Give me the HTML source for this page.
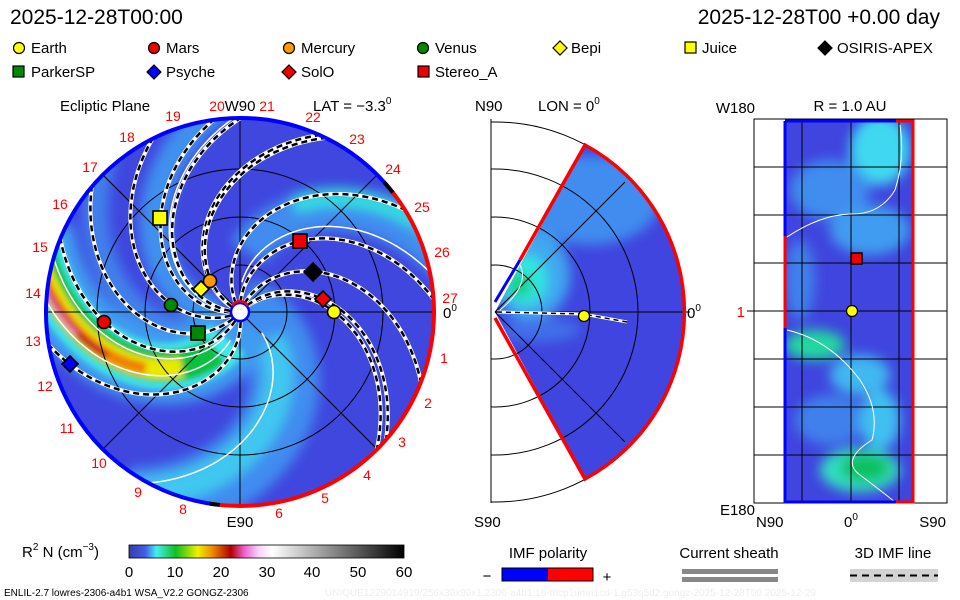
<!DOCTYPE html>
<html><head><meta charset="utf-8">
<style>
html,body{margin:0;padding:0;background:#fff;}
svg{display:block;font-family:"Liberation Sans",sans-serif;}
</style></head><body>
<svg id="s" width="960" height="600" viewBox="0 0 960 600" xmlns="http://www.w3.org/2000/svg">
<defs>
<clipPath id="cc"><circle cx="240" cy="312" r="193"/></clipPath>
<clipPath id="wc"><path d="M495,312 L585,145 A190,190 0 0 1 585,479 Z"/></clipPath>
<clipPath id="rc"><rect x="785" y="121" width="129" height="381"/></clipPath>
<clipPath id="mb"><rect x="491" y="119" width="300" height="384"/></clipPath>
<filter id="bl" x="-50%" y="-50%" width="200%" height="200%"><feGaussianBlur stdDeviation="6"/></filter>
<filter id="bl2" x="-50%" y="-50%" width="200%" height="200%"><feGaussianBlur stdDeviation="3"/></filter>
<linearGradient id="cb" x1="0" x2="1">
<stop offset="0" stop-color="#3a3aa8"/><stop offset="0.06" stop-color="#4060e8"/><stop offset="0.1" stop-color="#40f0f0"/>
<stop offset="0.17" stop-color="#10c020"/><stop offset="0.25" stop-color="#f0f000"/><stop offset="0.3" stop-color="#f09000"/>
<stop offset="0.37" stop-color="#b00000"/><stop offset="0.42" stop-color="#f060d0"/><stop offset="0.47" stop-color="#f8d0f8"/>
<stop offset="0.52" stop-color="#ffffff"/><stop offset="1" stop-color="#000000"/>
</linearGradient>
</defs>

<text x="10" y="24" font-size="21">2025-12-28T00:00</text>
<text x="940" y="24" font-size="21" text-anchor="end">2025-12-28T00 +0.00 day</text>

<g font-size="15" stroke="#000" stroke-width="1.2">
<circle cx="19" cy="48" r="5.5" fill="#ff0"/>
<circle cx="154" cy="48" r="5.5" fill="#e00"/>
<circle cx="289" cy="48" r="5.5" fill="#f90"/>
<circle cx="423" cy="48" r="5.5" fill="#080"/>
<path d="M560,41 L567,48 560,55 553,48Z" fill="#ff0"/>
<rect x="685" y="42" width="11" height="11" fill="#ff0"/>
<path d="M825,41 L832,48 825,55 818,48Z" fill="#000"/>
<rect x="13" y="66" width="11" height="11" fill="#080"/>
<path d="M154,65 L161,72 154,79 147,72Z" fill="#00f"/>
<path d="M289,65 L296,72 289,79 282,72Z" fill="#e00"/>
<rect x="418" y="66" width="11" height="11" fill="#e00"/>
</g>
<g font-size="15">
<text x="31" y="53">Earth</text><text x="166" y="53">Mars</text><text x="301" y="53">Mercury</text>
<text x="435" y="53">Venus</text><text x="571" y="53">Bepi</text><text x="702" y="53">Juice</text>
<text x="837" y="53">OSIRIS-APEX</text>
<text x="31" y="77">ParkerSP</text><text x="166" y="77">Psyche</text><text x="301" y="77">SolO</text><text x="435" y="77">Stereo_A</text>
</g>

<g font-size="15">
<text x="60" y="111">Ecliptic Plane</text>
<text x="240" y="111" text-anchor="middle">W90</text>
<text x="313" y="111">LAT = −3.3<tspan font-size="10" dy="-7">0</tspan></text>
<text x="240" y="527" text-anchor="middle">E90</text>
<text x="443" y="318">0<tspan font-size="10" dy="-7">0</tspan></text>
</g>
<circle cx="240" cy="312" r="194" fill="#3f47de"/>
<g clip-path="url(#cc)" id="dens"></g>
<g clip-path="url(#cc)" fill="none" stroke="#000" stroke-width="1">
<circle cx="240" cy="312" r="47"/><circle cx="240" cy="312" r="95"/><circle cx="240" cy="312" r="143"/>
<line x1="40" y1="312" x2="440" y2="312"/><line x1="240" y1="110" x2="240" y2="510"/>
<line x1="100" y1="172" x2="380" y2="452"/><line x1="100" y1="452" x2="380" y2="172"/>
</g>
<g id="flines" clip-path="url(#cc)" fill="none"></g>
<g fill="none" stroke-width="4">
<path id="rimB" stroke="#00f"/><path id="rimR" stroke="#f00"/>
<path id="rimK1" stroke="#000"/><path id="rimK2" stroke="#000"/>
</g>
<circle cx="240" cy="312" r="9" fill="#fff" stroke="#00f" stroke-width="2.5"/>
<path d="M232,306 A9,9 0 0 1 248,306" fill="none" stroke="#f00" stroke-width="2.5"/>
<g stroke="#000" stroke-width="1.6">
<circle cx="334" cy="312" r="6.5" fill="#ff0"/>
<path d="M323,291 L331,299 323,307 315,299Z" fill="#e00"/>
<path d="M313,263 L322,272 313,281 304,272Z" fill="#000"/>
<rect x="293" y="234" width="14" height="14" fill="#e00"/>
<circle cx="210" cy="281" r="6.5" fill="#f90"/>
<path d="M201,281 L209,289 201,297 193,289Z" fill="#ff0"/>
<circle cx="171" cy="305" r="6.5" fill="#080"/>
<circle cx="104" cy="322" r="6.5" fill="#e00"/>
<rect x="191" y="326" width="14" height="14" fill="#080"/>
<rect x="153" y="211" width="14" height="14" fill="#ff0"/>
<path d="M70,356 L78,364 70,372 62,364Z" fill="#00f"/>
</g>
<g fill="#f00" font-size="14" text-anchor="middle" id="nums"></g>

<g font-size="15">
<text x="475" y="111">N90</text>
<text x="538" y="111">LON = 0<tspan font-size="10" dy="-7">0</tspan></text>
<text x="474" y="527">S90</text>
<text x="687" y="318">0<tspan font-size="10" dy="-7">0</tspan></text>
</g>
<path d="M495,312 L585,145 A190,190 0 0 1 585,479 Z" fill="#3f45de"/>
<g clip-path="url(#wc)" filter="url(#bl)">
<ellipse cx="590" cy="200" rx="70" ry="45" fill="#3f8cef"/>
<ellipse cx="530" cy="275" rx="40" ry="45" fill="#3fa8f0"/>
<ellipse cx="525" cy="280" rx="22" ry="25" fill="#30e8e0"/>
<ellipse cx="520" cy="285" rx="12" ry="12" fill="#10d080"/>
<ellipse cx="540" cy="330" rx="40" ry="12" fill="#3f70ea"/>
</g>
<g clip-path="url(#mb)" fill="none" stroke="#000" stroke-width="1">
<circle cx="495" cy="312" r="47"/><circle cx="495" cy="312" r="95"/><circle cx="495" cy="312" r="143"/><circle cx="495" cy="312" r="190"/>
<line x1="495" y1="312" x2="690" y2="312"/><line x1="495" y1="312" x2="625" y2="182"/><line x1="495" y1="312" x2="625" y2="442"/>
</g>
<line x1="491" y1="119" x2="491" y2="503" stroke="#000"/>
<path d="M520,265 Q530,285 500,310" fill="none" stroke="#fff" stroke-width="1"/>
<path d="M497,312 L583,314 L627,322" fill="none" stroke="#fff" stroke-width="3"/>
<path d="M497,312 L583,314 L627,322" fill="none" stroke="#000" stroke-width="1.5" stroke-dasharray="5 4"/>
<path d="M495,302 L520,260" stroke="#00f" stroke-width="3"/>
<path d="M520,260 L585,145 A190,190 0 0 1 585,479 L495,318" fill="none" stroke="#f00" stroke-width="3.5"/>
<circle cx="584" cy="316" r="5.5" fill="#ff0" stroke="#000" stroke-width="1.2"/>

<g font-size="15">
<text x="755" y="113" text-anchor="end">W180</text>
<text x="850" y="111" text-anchor="middle">R = 1.0 AU</text>
<text x="755" y="515" text-anchor="end">E180</text>
<text x="756" y="527">N90</text>
<text x="851" y="527" text-anchor="middle">0<tspan font-size="10" dy="-7">0</tspan></text>
<text x="946" y="527" text-anchor="end">S90</text>
<text x="745" y="317" fill="#f00" text-anchor="end">1</text>
</g>
<rect x="754" y="119" width="193" height="384" fill="#fff" stroke="#000"/>
<rect x="785" y="121" width="129" height="381" fill="#3f45de"/>
<g clip-path="url(#rc)" filter="url(#bl)">
<ellipse cx="880" cy="150" rx="30" ry="35" fill="#40d8f0"/>
<ellipse cx="830" cy="190" rx="40" ry="30" fill="#3f8cef"/>
<ellipse cx="870" cy="230" rx="40" ry="25" fill="#3f9cf0"/>
<ellipse cx="800" cy="280" rx="15" ry="40" fill="#3f80ec"/>
<ellipse cx="815" cy="345" rx="30" ry="15" fill="#20d8a0"/>
<ellipse cx="860" cy="375" rx="30" ry="20" fill="#3fb8f0"/>
<ellipse cx="830" cy="420" rx="35" ry="25" fill="#3f80ec"/>
<ellipse cx="880" cy="420" rx="20" ry="30" fill="#40c0f0"/>
<ellipse cx="860" cy="470" rx="40" ry="22" fill="#30e0c0"/>
<ellipse cx="865" cy="468" rx="25" ry="14" fill="#10c060"/>
</g>
<g stroke="#000" stroke-width="1">
<line x1="802" y1="119" x2="802" y2="503"/><line x1="851" y1="119" x2="851" y2="503"/><line x1="899" y1="119" x2="899" y2="503"/>
<line x1="754" y1="167" x2="947" y2="167"/><line x1="754" y1="215" x2="947" y2="215"/><line x1="754" y1="263" x2="947" y2="263"/>
<line x1="747" y1="311" x2="947" y2="311"/><line x1="754" y1="359" x2="947" y2="359"/><line x1="754" y1="407" x2="947" y2="407"/>
<line x1="754" y1="455" x2="947" y2="455"/>
</g>
<path d="M787,237 Q820,215 850,214 Q880,215 895,190 Q905,160 900,125" fill="none" stroke="#fff" stroke-width="1"/>
<path d="M787,330 Q830,340 860,380 Q880,410 872,440 Q840,460 860,475 Q880,490 895,502" fill="none" stroke="#fff" stroke-width="1"/>
<g stroke-width="3" fill="none">
<path d="M785,121 L896,121 M785,121 L785,502 L896,502" stroke="#00f"/>
<path d="M896,121 L913,121 L913,502 L896,502 M785,236 L785,328" stroke="#f00"/>
</g>
<rect x="851" y="253" width="11" height="11" fill="#e00" stroke="#000" stroke-width="1.5"/>
<circle cx="852" cy="311" r="5.5" fill="#ff0" stroke="#000" stroke-width="1.2"/>

<text x="22" y="557" font-size="15">R<tspan font-size="10" dy="-7">2</tspan><tspan dy="7"> N (cm</tspan><tspan font-size="10" dy="-7">−3</tspan><tspan dy="7">)</tspan></text>
<rect x="129" y="545" width="275" height="13" fill="url(#cb)" stroke="#000" stroke-width="0.8"/>
<g font-size="15" text-anchor="middle">
<text x="129" y="577">0</text><text x="175" y="577">10</text><text x="221" y="577">20</text><text x="267" y="577">30</text>
<text x="312" y="577">40</text><text x="358" y="577">50</text><text x="404" y="577">60</text>
<text x="548" y="558">IMF polarity</text><text x="729" y="558">Current sheath</text><text x="893" y="558">3D IMF line</text>
<text x="487" y="581">−</text><text x="607" y="582">+</text>
</g>
<rect x="502" y="568" width="46" height="13" fill="#00f"/><rect x="548" y="568" width="45" height="13" fill="#f00"/>
<rect x="502" y="568" width="91" height="13" fill="none" stroke="#000"/>
<rect x="682" y="569" width="96" height="5" fill="#888"/><rect x="682" y="577" width="96" height="5" fill="#888"/>
<rect x="850" y="569" width="88" height="13" fill="#d3d3d3"/>
<line x1="850" y1="575.5" x2="938" y2="575.5" stroke="#000" stroke-width="2" stroke-dasharray="7 5"/>
<text x="4" y="596" font-size="10">ENLIL-2.7 lowres-2306-a4b1 WSA_V2.2 GONGZ-2306</text>
<text x="325" y="596" font-size="10" fill="#eee">UNIQUE1229014919/256x30x90x1.2306-a4b1.16-mcp1umn1cd-1.g53q5d2.gongz-2025-12-28T00   2025-12-29</text>
</svg>
<script>
(function(){
var NS="http://www.w3.org/2000/svg",cx=240,cy=312,k=2.2;
function sp(p0,r0,r1){var d="";for(var r=r0;r<=r1;r+=2){var a=(p0+r/k)*Math.PI/180;d+=(r==r0?"M":"L")+(cx+r*Math.cos(a)).toFixed(1)+","+(cy+r*Math.sin(a)).toFixed(1);}return d;}
function add(g,d,st,w,dash){var p=document.createElementNS(NS,"path");p.setAttribute("d",d);p.setAttribute("fill","none");p.setAttribute("stroke",st);p.setAttribute("stroke-width",w);if(dash)p.setAttribute("stroke-dasharray",dash);g.appendChild(p);return p;}
var dg=document.getElementById("dens");
var gb=document.createElementNS(NS,"g");gb.setAttribute("filter","url(#bl)");dg.appendChild(gb);
add(gb,sp(20,0,220),"#3f8cef",70);add(gb,sp(25,40,220),"#40c8f0",30);
add(gb,sp(-110,60,220),"#3f8cef",40);add(gb,sp(-118,120,220),"#30e0e0",18);
add(gb,sp(-190,20,220),"#3f90ef",30);add(gb,sp(-225,40,220),"#3f80ec",25);
add(gb,sp(102,10,220),"#3f9cf0",75);
var gc=document.createElementNS(NS,"g");gc.setAttribute("filter","url(#bl2)");dg.appendChild(gc);
add(gc,sp(102,30,220),"#40e8e8",46);add(gc,sp(102,45,220),"#10c040",32);
add(gc,sp(100,80,220),"#e8e800",20);add(gc,sp(99,110,220),"#f08000",12);add(gc,sp(98,140,220),"#c00020",7);
add(gc,sp(97,165,220),"#f080c0",4);
var fl=document.getElementById("flines");
[95,108,-100,30,-180].forEach(function(p){add(fl,sp(p,30,220),"#fff",1.5);});
[-43,-47,-67,-92,-154,-186,-205,-246,-228,82,-178,-152,-120].forEach(function(p){
 var d=sp(p,10,200);add(fl,d,"#fff",4);add(fl,d,"#000",2.5,"6 4");});
function arc(a0,a1){var r=194,s=a0*Math.PI/180,e=a1*Math.PI/180;var x0=cx+r*Math.cos(s),y0=cy+r*Math.sin(s),x1=cx+r*Math.cos(e),y1=cy+r*Math.sin(e);var la=((a1-a0+360)%360)>180?1:0;return "M"+x0+","+y0+" A"+r+","+r+" 0 "+la+" 1 "+x1+","+y1;}
document.getElementById("rimB").setAttribute("d",arc(97,-40+360));
document.getElementById("rimR").setAttribute("d",arc(-40,97));
document.getElementById("rimK1").setAttribute("d",arc(-42,-38));
document.getElementById("rimK2").setAttribute("d",arc(96,99));
var nums=[["19",173,121],["18",127,142],["17",90,172],["16",60,209],["15",40,252],["14",33,298],["13",33,346],["12",45,391],["11",67,433],["10",99,468],["9",138,497],["8",183,514],["6",279,518],["5",325,503],["4",367,480],["3",402,447],["2",428,408],["1",444,363],["27",450,303],["26",442,257],["25",422,212],["24",393,174],["23",357,144],["22",313,122],["21",267,111],["20",217,111]];
var ng=document.getElementById("nums");
nums.forEach(function(n){var t=document.createElementNS(NS,"text");t.setAttribute("x",n[1]);t.setAttribute("y",n[2]);t.textContent=n[0];ng.appendChild(t);});
})();
</script>
</body></html>
